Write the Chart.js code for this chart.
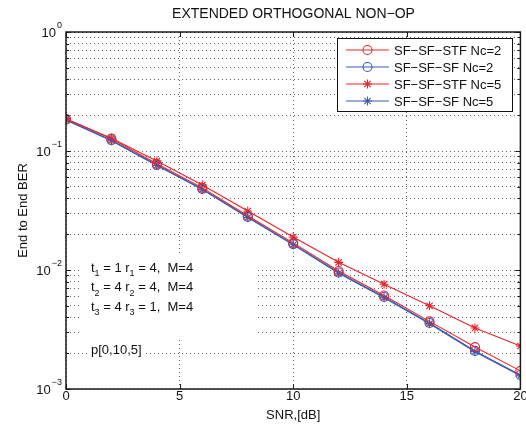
<!DOCTYPE html>
<html>
<head>
<meta charset="utf-8">
<script src="https://cdn.jsdelivr.net/npm/chart.js@4.4.0/dist/chart.umd.min.js"></script>
<style>
html, body { margin: 0; padding: 0; background: #fff; }
</style>
</head>
<body>
<canvas id="myChart" width="526" height="427"></canvas>
<script>
// data
const snr = [0, 2, 4, 6, 8, 10, 12, 14, 16, 18, 20];
const stfNc2 = [0.186, 0.127, 0.078, 0.049, 0.0286, 0.0169, 0.0098, 0.0061, 0.0037, 0.00225, 0.00142];
const sfNc2 = [0.183, 0.123, 0.0763, 0.048, 0.0279, 0.0165, 0.00953, 0.00593, 0.00359, 0.00209, 0.00131];
const stfNc5 = [0.187, 0.128, 0.0824, 0.0518, 0.0313, 0.0189, 0.0116, 0.0076, 0.0050, 0.00326, 0.00230];
const sfNc5 = [0.182, 0.122, 0.0755, 0.0474, 0.0276, 0.0163, 0.0094, 0.00585, 0.00354, 0.00206, 0.00129];
const seriesNames = ['SF\u2212SF\u2212STF Nc=2', 'SF\u2212SF\u2212SF Nc=2', 'SF\u2212SF\u2212STF Nc=5', 'SF\u2212SF\u2212SF Nc=5'];
const xTicks = [0, 5, 10, 15, 20];
const yDecades = [-3, -2, -1, 0];
const chartTitle = 'EXTENDED ORTHOGONAL NON\u2212OP';
const xTitle = 'SNR,[dB]';
const yTitle = 'End to End BER';
const noteRows = [
    ['t', '1', ' = 1 r', '1', ' = 4,  M=4'],
    ['t', '2', ' = 4 r', '2', ' = 4,  M=4'],
    ['t', '3', ' = 4 r', '3', ' = 1,  M=4']
];
const noteExtra = 'p[0,10,5]';

const RED = '#e8242b';
const BLUE = '#3d5cb0';
const FONT = "'Liberation Sans', Arial, sans-serif";

function pts(values) {
    return snr.map((x, i) => ({ x: x, y: values[i] }));
}

// 1..9 x 10^k grid ticks
const yTickVals = [];
for (let i = 0; i < yDecades.length; i++) {
    const d = yDecades[i];
    if (d === yDecades[yDecades.length - 1]) { yTickVals.push(Math.pow(10, d)); break; }
    for (let s = 1; s <= 9; s++) yTickVals.push(s * Math.pow(10, d));
}

const styles = [
    { color: RED, style: 'circle' },
    { color: BLUE, style: 'circle' },
    { color: RED, style: 'star' },
    { color: BLUE, style: 'star' }
];
const seriesData = [stfNc2, sfNc2, stfNc5, sfNc5];

const datasets = seriesData.map((vals, i) => ({
    label: seriesNames[i],
    data: pts(vals),
    borderColor: styles[i].color,
    backgroundColor: 'transparent',
    borderWidth: 1.1,
    pointStyle: styles[i].style,
    pointRadius: 4.5,
    pointBorderColor: styles[i].color,
    pointBackgroundColor: 'transparent',
    pointBorderWidth: 1.1,
    tension: 0
}));

function marker(ctx, style, color, x, y) {
    const opts = { pointStyle: style, radius: 4.5, borderWidth: 1.1, rotation: 0 };
    ctx.save();
    ctx.strokeStyle = color;
    ctx.fillStyle = 'transparent';
    ctx.lineWidth = 1.1;
    if (Chart.helpers && Chart.helpers.drawPoint) {
        Chart.helpers.drawPoint(ctx, opts, x, y);
    } else {
        ctx.beginPath();
        ctx.arc(x, y, 4.5, 0, Math.PI * 2);
        ctx.stroke();
    }
    ctx.restore();
}

function noPad(s) {
    s.paddingLeft = 0; s.paddingRight = 0; s.paddingTop = 0; s.paddingBottom = 0;
}

const decor = {
    id: 'decor',
    beforeDatasetsDraw(chart) {
        const ctx = chart.ctx;
        ctx.save();
        ctx.fillStyle = '#fff';
        ctx.fillRect(80, 254, 175, 83);
        ctx.fillRect(88, 343, 58, 15);
        ctx.restore();
    },
    afterDatasetsDraw(chart) {
        const ctx = chart.ctx;
        const a = chart.chartArea;
        const xs = chart.scales.x, ys = chart.scales.y;
        ctx.save();
        // box
        ctx.strokeStyle = '#1a1a1a';
        ctx.lineWidth = 1.5;
        ctx.strokeRect(a.left, a.top, a.right - a.left, a.bottom - a.top);
        // inner ticks
        ctx.lineWidth = 1;
        ctx.beginPath();
        yTickVals.forEach(v => {
            const y = Math.round(ys.getPixelForValue(v)) + 0.5;
            const lg = Math.log10(v);
            const len = Math.abs(lg - Math.round(lg)) < 1e-9 ? 5 : 3;
            ctx.moveTo(a.left, y); ctx.lineTo(a.left + len, y);
            ctx.moveTo(a.right, y); ctx.lineTo(a.right - len, y);
        });
        xTicks.forEach(v => {
            const x = Math.round(xs.getPixelForValue(v)) + 0.5;
            ctx.moveTo(x, a.bottom); ctx.lineTo(x, a.bottom - 5);
            ctx.moveTo(x, a.top); ctx.lineTo(x, a.top + 5);
        });
        ctx.stroke();

        // y decade labels with superscripts
        ctx.fillStyle = '#111';
        ctx.textAlign = 'right';
        ctx.textBaseline = 'middle';
        yDecades.forEach(d => {
            const y = ys.getPixelForValue(Math.pow(10, d));
            const exp = d === 0 ? '0' : '\u2212' + Math.abs(d);
            ctx.font = '9px ' + FONT;
            const ew = ctx.measureText(exp).width;
            ctx.fillText(exp, 62, y - 6);
            ctx.font = '13px ' + FONT;
            ctx.fillText('10', 62 - ew - 1, y + 1);
        });

        // title
        ctx.font = '14px ' + FONT;
        ctx.textAlign = 'center';
        ctx.fillText(chartTitle, 293.5, 14);

        // legend
        const lx = 337, ly = 38, lw = 175, lh = 73;
        ctx.fillStyle = '#fff';
        ctx.fillRect(lx, ly, lw, lh);
        ctx.strokeStyle = '#111';
        ctx.lineWidth = 1;
        ctx.strokeRect(lx + 0.5, ly + 0.5, lw, lh);
        seriesNames.forEach((name, i) => {
            const y = 50 + i * 17;
            ctx.strokeStyle = styles[i].color;
            ctx.lineWidth = 1.1;
            ctx.beginPath();
            ctx.moveTo(346, y); ctx.lineTo(389, y);
            ctx.stroke();
            marker(ctx, styles[i].style, styles[i].color, 367.5, y);
            ctx.fillStyle = '#111';
            ctx.font = '13px ' + FONT;
            ctx.textAlign = 'left';
            ctx.textBaseline = 'middle';
            ctx.fillText(name, 394, y + 1);
        });

        // notes
        ctx.fillStyle = '#111';
        ctx.textAlign = 'left';
        ctx.textBaseline = 'middle';
        noteRows.forEach((row, r) => {
            let x = 91;
            const y = 268 + r * 19.5;
            row.forEach((part, k) => {
                const sub = k % 2 === 1;
                ctx.font = (sub ? '9px ' : '13px ') + FONT;
                ctx.fillText(part, x, sub ? y + 6 : y);
                x += ctx.measureText(part).width;
            });
        });
        ctx.font = '13px ' + FONT;
        ctx.fillText(noteExtra, 91, 350);
        ctx.restore();
    }
};

new Chart(document.getElementById('myChart'), {
    type: 'line',
    data: { datasets: datasets },
    options: {
        responsive: false,
        animation: false,
        layout: { padding: { top: 32, right: 5, left: 0, bottom: 0 } },
        plugins: {
            legend: { display: false },
            title: { display: false },
            tooltip: { enabled: false }
        },
        scales: {
            x: {
                type: 'linear',
                min: 0,
                max: 20,
                afterBuildTicks: s => { s.ticks = xTicks.map(v => ({ value: v })); },
                afterFit: s => { s.height = 38; noPad(s); },
                ticks: { color: '#111', font: { size: 13, family: FONT }, padding: 0, maxRotation: 0 },
                grid: { color: '#666', drawTicks: false, lineWidth: 1 },
                border: { display: false, dash: [1, 3] },
                title: { display: true, text: xTitle, color: '#111', font: { size: 13, family: FONT }, padding: { top: 0, bottom: 4 } }
            },
            y: {
                type: 'logarithmic',
                min: 0.001,
                max: 1,
                afterBuildTicks: s => { s.ticks = yTickVals.map(v => ({ value: v })); },
                afterFit: s => { s.width = 66; noPad(s); },
                ticks: { display: false },
                grid: { color: '#666', drawTicks: false, lineWidth: 1 },
                border: { display: false, dash: [1, 3] },
                title: { display: true, text: yTitle, color: '#111', font: { size: 13, family: FONT }, padding: { top: 16, bottom: 0 } }
            }
        }
    },
    plugins: [decor]
});
</script>
</body>
</html>
